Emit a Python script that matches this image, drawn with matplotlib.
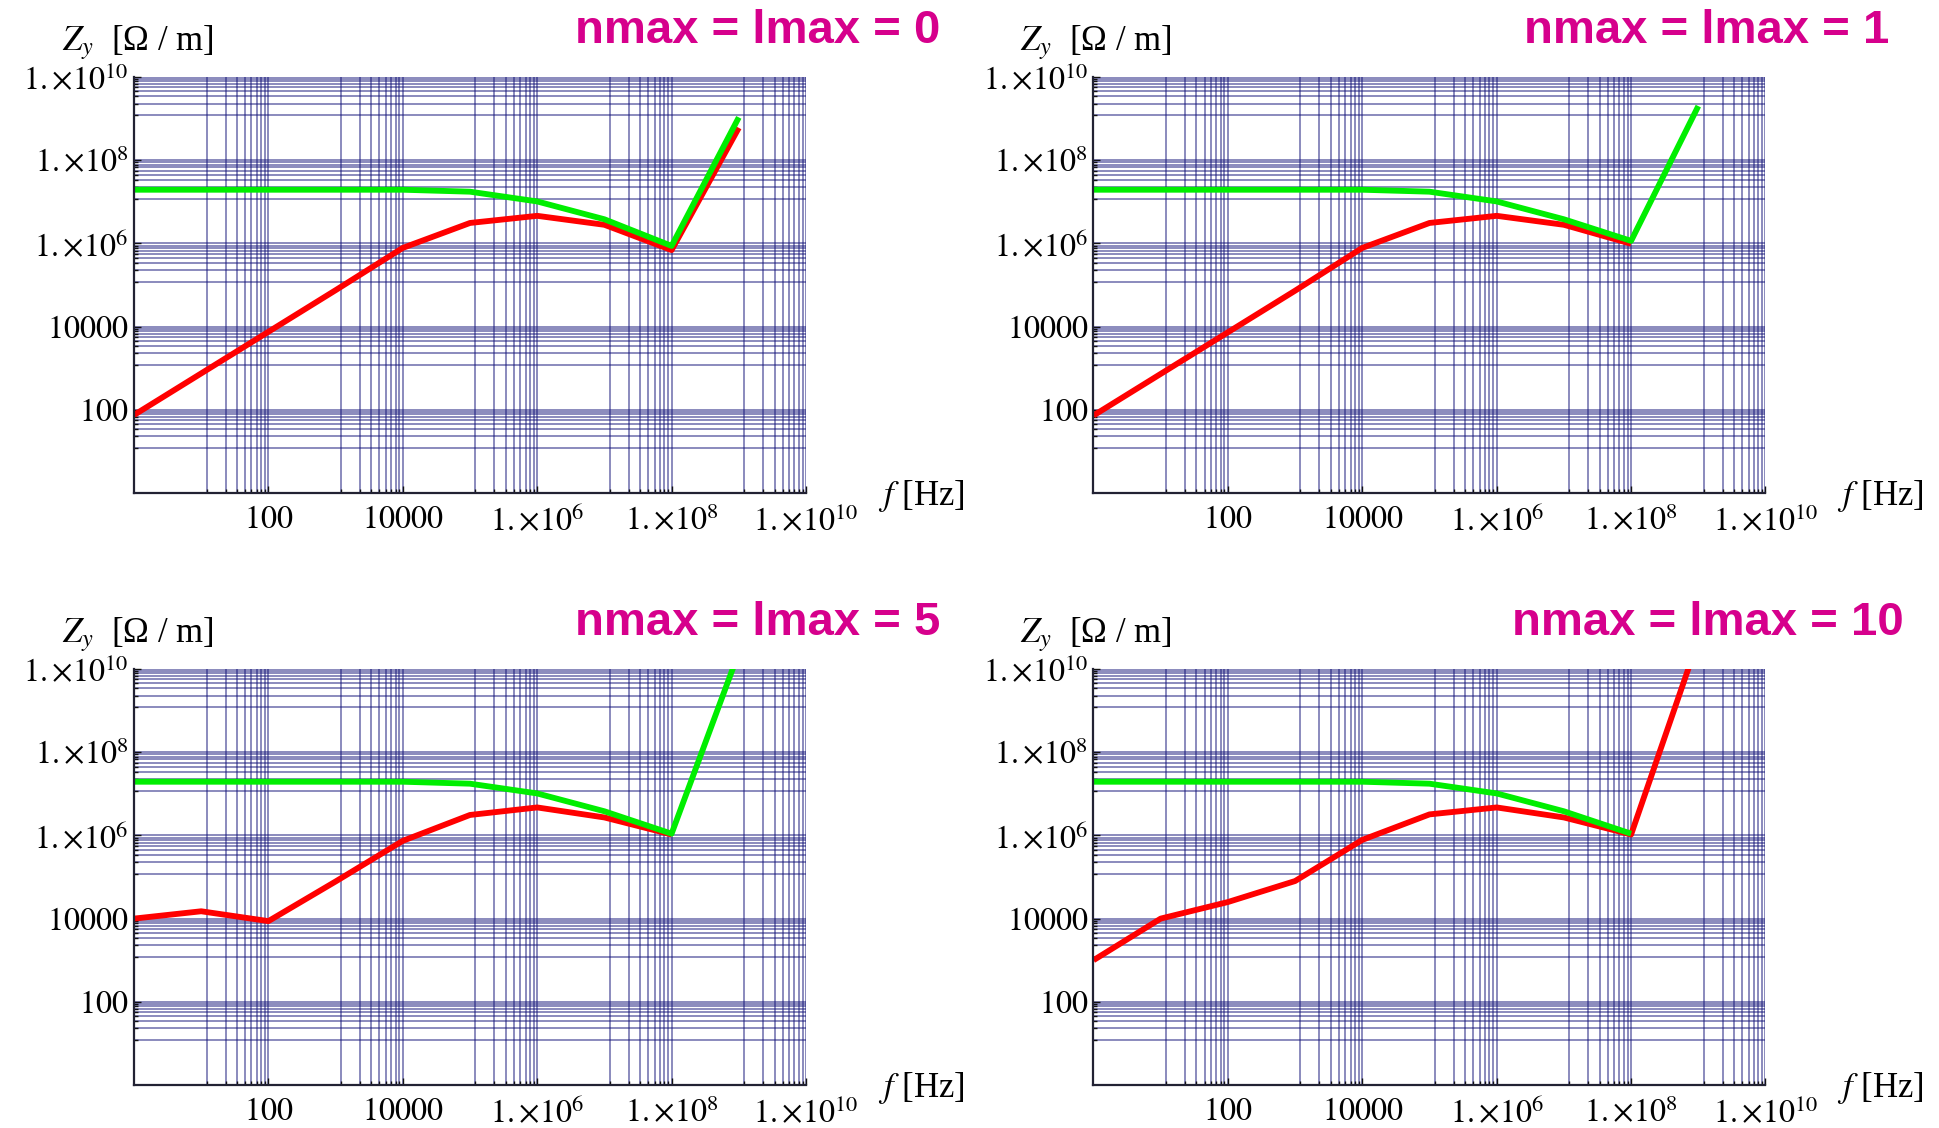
import numpy as np
import matplotlib
matplotlib.use('Agg')
import matplotlib.pyplot as plt
from matplotlib.ticker import FixedLocator, FuncFormatter, NullFormatter

plt.rcParams['font.family'] = ['Liberation Serif', 'DejaVu Serif']
plt.rcParams['mathtext.fontset'] = 'stix'

# frequency nodes, one per decade
freq = [1, 10, 1e2, 1e3, 1e4, 1e5, 1e6, 1e7, 1e8, 1e9]

titles = ['nmax = lmax = 0', 'nmax = lmax = 1', 'nmax = lmax = 5', 'nmax = lmax = 10']

# red curves
red_0 = [75, 750, 7500, 7.5e4, 7.8e5, 3.1e6, 4.6e6, 2.8e6, 6.9e5, 6.0e8]
red_1 = [73, 730, 7300, 7.3e4, 7.8e5, 3.1e6, 4.6e6, 2.8e6, 9.8e5, np.nan]
red_5 = [1.0e4, 1.5e4, 8.7e3, 7.8e4, 7.4e5, 3.1e6, 4.7e6, 2.7e6, 1.05e6, np.nan]
red_10 = [1.0e3, 1.0e4, 2.5e4, 8.0e4, 7.8e5, 3.2e6, 4.7e6, 2.7e6, 1.05e6, 5e10]

# green curves
green_0 = [1.95e7, 1.95e7, 1.95e7, 1.95e7, 1.95e7, 1.75e7, 1.02e7, 3.8e6, 8.7e5, 1.07e9]
green_1 = [1.95e7, 1.95e7, 1.95e7, 1.95e7, 1.95e7, 1.75e7, 1.02e7, 3.8e6, 1.15e6, 2.0e9]
green_5 = [1.95e7, 1.95e7, 1.95e7, 1.95e7, 1.95e7, 1.75e7, 1.02e7, 3.8e6, 1.1e6, 2.5e10]
green_10 = [1.95e7, 1.95e7, 1.95e7, 1.95e7, 1.95e7, 1.75e7, 1.02e7, 3.8e6, 1.1e6, np.nan]

reds = [red_0, red_1, red_5, red_10]
greens = [green_0, green_1, green_5, green_10]

major = [1e2, 1e4, 1e6, 1e8, 1e10]
# mathematica style minor lines: linear steps between every second decade
minor = []
for k in range(0, 10, 2):
    lo, hi = 10.0 ** k, 10.0 ** (k + 2)
    minor += [lo + j * (hi - lo) / 9 for j in range(1, 9)]


def fmt(v, pos):
    e = int(round(np.log10(v)))
    if e <= 4:
        return r'$%d$' % round(v)
    return r'$1.{\times}10^{%d}$' % e


W, H = 1940, 1128
fig = plt.figure(figsize=(W / 100, H / 100), dpi=100)

corners = [(134, 77), (1093.5, 77), (134, 669), (1093.5, 669)]
aw, ah = 672, 416
grid_col = '#15157a'

for i, (l, t) in enumerate(corners):
    ax = fig.add_axes([l / W, 1 - (t + ah) / H, aw / W, ah / H])
    ax.set_xscale('log')
    ax.set_yscale('log')
    ax.plot(freq, reds[i], color='#ff0000', lw=4.2, solid_capstyle='butt')
    ax.plot(freq, greens[i], color='#00ee00', lw=4.2, solid_capstyle='butt')
    ax.set_xlim(1, 1e10)
    ax.set_ylim(1, 1e10)

    for axis in (ax.xaxis, ax.yaxis):
        axis.set_major_locator(FixedLocator(major))
        axis.set_minor_locator(FixedLocator(minor))
        axis.set_major_formatter(FuncFormatter(fmt))
        axis.set_minor_formatter(NullFormatter())
    ax.tick_params(which='both', direction='in', color='#111111', width=1)
    ax.tick_params(which='major', length=5, labelsize=23)
    ax.tick_params(which='minor', length=3)
    ax.tick_params(axis='x', which='major', pad=9)
    ax.tick_params(axis='y', which='major', pad=4)

    ax.grid(True, which='both', color=grid_col, alpha=0.58, lw=1.2)
    ax.set_axisbelow(True)
    for s in ('top', 'right'):
        ax.spines[s].set_visible(False)
    for s in ('left', 'bottom'):
        ax.spines[s].set_color('#222233')
        ax.spines[s].set_linewidth(1.6)

    # labels
    ylab_x = 62 if l < 500 else 1020
    flab_x = 878 if l < 500 else 1837
    fig.text(ylab_x / W, 1 - (t - 27) / H, r'$Z_y$  [Ω / m]',
             fontsize=25, va='baseline', ha='left')
    fig.text(flab_x / W, 1 - (t + ah + 12) / H, r'$f$ [Hz]',
             fontsize=25, va='baseline', ha='left')
    title_x = 940 if l < 500 else (1889 if i == 1 else 1904)
    fig.text(title_x / W, 1 - (t - 34) / H, titles[i], fontsize=34,
             fontweight='bold', family='Liberation Sans', color='#d6008c',
             ha='right', va='baseline')

fig.savefig('out.png', dpi=100)
